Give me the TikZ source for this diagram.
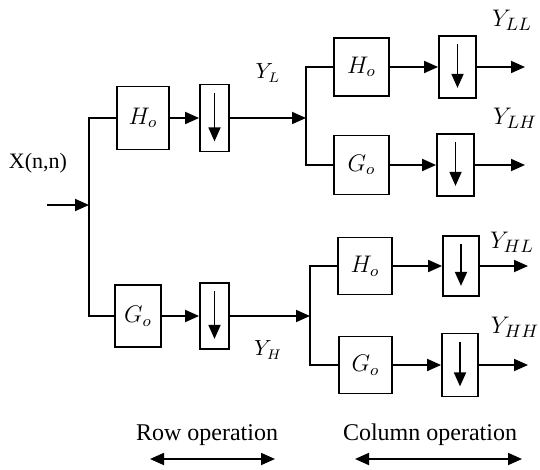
\documentclass[tikz,border=0pt]{standalone}
\usepackage{fontspec}
\setmainfont{Liberation Serif}
\usetikzlibrary{arrows.meta}
\begin{document}
\begin{tikzpicture}[x=0.5pt,y=-0.5pt,line width=0.9pt]
    \tikzstyle{filt}=[draw, inner sep=0pt, font=\fontsize{12}{14}\selectfont]
    \tikzstyle{down}=[draw, inner sep=0pt]
    \tikzstyle{sig}=[-{Triangle[length=7pt,width=6pt]}]
    \tikzstyle{lbl}=[inner sep=0pt, font=\fontsize{12.5}{14}\selectfont]
    \useasboundingbox (0,0) rectangle (540,470);
    % row operation
    \coordinate (x0) at (47,205);
    \coordinate (j1) at (89,205);
    \node[filt, minimum width=26pt, minimum height=31.5pt] (H1) at (143,118) {$H_o$};
    \node[filt, minimum width=23pt, minimum height=31pt] (G1) at (138,316) {$G_o$};
    \node[down, minimum width=14.5pt, minimum height=33.5pt] (D1) at (214.5,118) {};
    \node[down, minimum width=14.5pt, minimum height=33pt] (D2) at (214.5,316) {};
    \draw[sig] (x0) -- (j1);
    \draw (H1.west) -| (j1) |- (G1.west);
    \draw[sig] (H1) -- (D1);
    \draw[sig] (G1) -- (D2);
    % column operation
    \coordinate (j2) at (306,118);
    \coordinate (j3) at (310,316);
    \node[filt, minimum width=27.5pt, minimum height=29pt] (H2) at (361.5,67) {$H_o$};
    \node[filt, minimum width=27.5pt, minimum height=29.5pt] (G2) at (361.5,165) {$G_o$};
    \node[filt, minimum width=27pt, minimum height=28.5pt] (H3) at (365,266) {$H_o$};
    \node[filt, minimum width=26.5pt, minimum height=28.5pt] (G3) at (365.5,365) {$G_o$};
    \node[down, minimum width=18.5pt, minimum height=31pt] (D3) at (457.5,67) {};
    \node[down, minimum width=18.5pt, minimum height=31pt] (D4) at (455.5,165) {};
    \node[down, minimum width=18pt, minimum height=30pt] (D5) at (461,266) {};
    \node[down, minimum width=18pt, minimum height=31.5pt] (D6) at (460,365) {};
    \draw[sig] (D1) -- (j2);
    \draw[sig] (D2) -- (j3);
    \draw (H2.west) -| (j2) |- (G2.west);
    \draw (H3.west) -| (j3) |- (G3.west);
    \draw[sig] (H2) -- (D3);
    \draw[sig] (G2) -- (D4);
    \draw[sig] (H3) -- (D5);
    \draw[sig] (G3) -- (D6);
    \coordinate (o1) at (525,67);
    \coordinate (o2) at (525,165);
    \coordinate (o3) at (528,266);
    \coordinate (o4) at (528,365);
    \draw[sig] (D3) -- (o1);
    \draw[sig] (D4) -- (o2);
    \draw[sig] (D5) -- (o3);
    \draw[sig] (D6) -- (o4);
    % downsampling arrows
    \foreach \d in {D1,D2,D3,D4,D5,D6}
      \draw[sig] ([yshift=-4.5pt]\d.north) -- ([yshift=5.5pt]\d.south);
    % labels
    \node[lbl, font=\fontsize{11}{13}\selectfont] (xin) at (38,163) {X(n,n)};
    \node[lbl, font=\fontsize{10.5}{12}\selectfont] (yl) at (268,73) {$Y_L$};
    \node[lbl, font=\fontsize{10.5}{12}\selectfont] (yh) at (268,350) {$Y_H$};
    \node[lbl] (yll) at (512,20) {$Y_{LL}$};
    \node[lbl] (ylh) at (515,118) {$Y_{LH}$};
    \node[lbl] (yhl) at (512,242) {$Y_{HL}$};
    \node[lbl] (yhh) at (515,327) {$Y_{HH}$};
    \node[lbl, font=\fontsize{12}{14}\selectfont] (rowop) at (207,435) {Row operation};
    \node[lbl, font=\fontsize{12}{14}\selectfont] (colop) at (430,435) {Column operation};
    \coordinate (r1) at (150,459);
    \coordinate (r2) at (275,459);
    \coordinate (c1) at (355,459);
    \coordinate (c2) at (522,459);
    \draw[{Triangle[length=7pt,width=6pt]}-{Triangle[length=7pt,width=6pt]}] (r1) -- (r2);
    \draw[{Triangle[length=7pt,width=6pt]}-{Triangle[length=7pt,width=6pt]}] (c1) -- (c2);
  \end{tikzpicture}
\end{document}
